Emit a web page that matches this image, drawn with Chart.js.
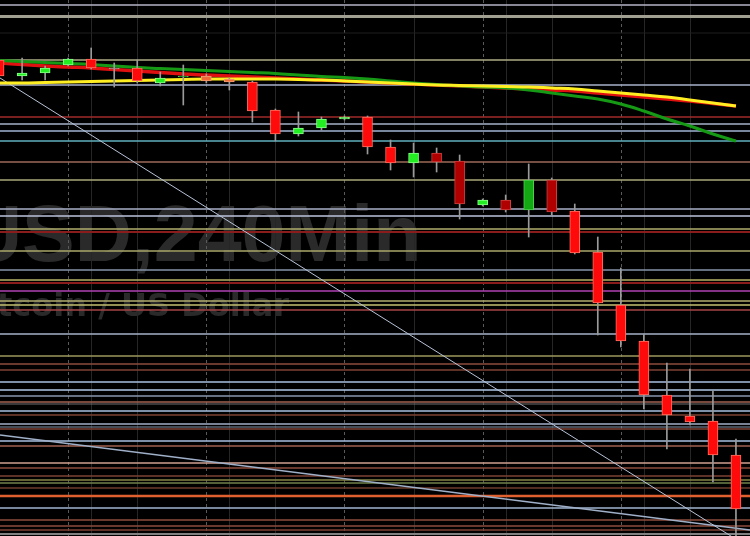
<!DOCTYPE html>
<html>
<head>
<meta charset="utf-8">
<script src="https://cdn.jsdelivr.net/npm/chart.js@4.4.1/dist/chart.umd.min.js"></script>
<style>
  html, body { margin: 0; padding: 0; background: #000; }
  #wrap { width: 750px; height: 536px; }
</style>
</head>
<body>
<div id="wrap"><canvas id="btcChart" width="750" height="536"></canvas></div>
<script>
// Bougies 4h (index 0 = bougie la plus à gauche)
const opens  = [8940, 8924, 8927, 8935, 8941, 8932, 8932, 8917, 8923, 8924, 8921, 8918, 8890, 8866, 8872, 8881, 8883,
                8853, 8837, 8847, 8839, 8795, 8800, 8790, 8820, 8789, 8748, 8695, 8659, 8605, 8584, 8579, 8545];
const highs  = [8943, 8942, 8934, 8942, 8952, 8937, 8940, 8928, 8935, 8926, 8922, 8919, 8891, 8888, 8883, 8884, 8884,
                8860, 8857, 8852, 8845, 8801, 8805, 8836, 8822, 8796, 8763, 8732, 8666, 8637, 8631, 8609, 8561];
const lows   = [8922, 8920, 8920, 8934, 8931, 8913, 8917, 8914, 8895, 8917, 8910, 8878, 8859, 8864, 8870, 8880, 8846,
                8830, 8823, 8828, 8781, 8794, 8788, 8763, 8785, 8746, 8665, 8653, 8591, 8551, 8575, 8518, 8460];
const closes = [8924, 8927, 8932, 8941, 8932, 8931, 8919, 8922, 8924, 8919, 8918, 8889, 8866, 8872, 8881, 8883, 8853,
                8837, 8847, 8838, 8796, 8800, 8790, 8820, 8788, 8747, 8697, 8659, 8605, 8585, 8578, 8545, 8491];

// Moyennes mobiles
const maYellow = [8917, 8917, 8917.5, 8918, 8918.5, 8919, 8919.5, 8920, 8920.5, 8921, 8921, 8921, 8921, 8920.5, 8920, 8919,
                  8918, 8917, 8916, 8915, 8914.5, 8914, 8913.5, 8913, 8912, 8911, 8909, 8907, 8905, 8903, 8900, 8897, 8894];
const maRed    = [8937, 8935.5, 8934, 8933, 8932, 8930.5, 8929, 8927.5, 8926, 8925, 8924, 8923, 8922, 8921, 8920, 8919,
                  8918, 8917, 8916, 8915, 8914, 8913, 8912, 8911, 8910, 8909, 8907, 8905, 8903, 8901, 8899, 8896.5, 8894];
const maGreen  = [8939.5, 8938.5, 8937.5, 8936.5, 8935.5, 8934, 8932.5, 8931.5, 8930.5, 8929.5, 8928.5, 8927.5, 8926.5,
                  8925, 8923.5, 8922.5, 8921, 8919, 8917, 8915.5, 8914, 8913, 8912, 8910, 8907, 8904, 8901, 8896, 8889,
                  8881, 8874, 8866, 8859];

// Lignes de tendance (index de bougie, prix)
const trendSteep   = [{x: 0.04, y: 8922}, {x: 32.61, y: 8452}];
const trendShallow = [{x: 0.04, y: 8565}, {x: 32.61, y: 8470}];

// Niveaux horizontaux (supports / résistances)
const levels = [8995, 8983.5, 8967, 8940, 8915, 8883, 8876, 8869, 8859, 8838, 8820, 8791, 8784, 8771, 8768, 8749, 8730,
                8720, 8717, 8709, 8699, 8695, 8690, 8666, 8644, 8636, 8630, 8618, 8610, 8604, 8598, 8596, 8589, 8585,
                8576, 8573, 8571, 8559, 8554, 8537, 8532, 8524, 8520, 8517, 8512, 8504, 8492, 8480, 8474, 8470, 8466];

// Séparateurs verticaux
const dayBreaks = [3, 9, 15, 21, 27];
const minorBreaks = [4, 6, 10, 12, 18, 22, 24, 28, 30];

// Styles
const levelColors = ['#b4b4c8', '#a09f92', '#1e1e1e', '#aeac84', '#a8b2cc', '#a02a2a', '#a6b2c8', '#a0b4d2', '#5fb0bd',
  '#9c6a58', '#aaa878', '#a8b0c8', '#bcc4dc', '#b0ae6c', '#8a1c1c', '#aaa86c', '#8493a8', '#b4b266', '#8a1c1c', '#b040b4',
  '#b0ae6e', '#c4c270', '#a44444', '#a4b2c8', '#9c9a5c', '#8c4c3c', '#7c4232', '#a8c0e0', '#b0c8e6', '#8898b0', '#a06050',
  '#707070', '#a8c0e0', '#7c4232', '#a0b0c8', '#8898b0', '#7c4232', '#a8c0e0', '#a06050', '#d0a090', '#8c4c3c', '#7c4232',
  '#848444', '#70804a', '#6c3c2c', '#e06030', '#a0b4d0', '#8c4c3c', '#8c4c3c', '#7c4232', '#808080'];
const levelWidths = [1.5, 3, 1, 1.5, 1.5, 1.5, 1.5, 1.5, 1.5, 1.5, 1.5, 1.5, 1.5, 1.5, 2, 1.5, 1.5, 1.5, 2, 1.5,
  1.5, 1.5, 1.5, 1.5, 1.5, 1.5, 1.5, 1.5, 1.5, 1.5, 1.5, 1, 1.5, 1.5, 1.5, 1, 1.5, 1.5, 1.5, 1.5, 1.5, 1.5,
  1.5, 1.5, 1.5, 2.5, 1.5, 1.5, 1.5, 1.5, 2];
// r = rouge vif, d = rouge foncé, o = orangé, g = vert, G = vert foncé, n = neutre
const candleShade = 'rgggrnrgGoorrgggrrgddgdGdrrrrrrrr';
const shadeFill   = { r: '#ff0a0a', d: '#b00000', o: '#f06a3a', g: '#22ee22', G: '#14a814', n: '#8a8a8a' };
const shadeBorder = { r: '#ff7060', d: '#d04040', o: '#f0a070', g: '#8aff8a', G: '#50d050', n: '#a0a0a0' };

const idx = opens.map((_, i) => i);
const bodies = idx.map(i => ({ x: i, y: [Math.min(opens[i], closes[i]), Math.max(opens[i], closes[i])] }));
const wicks = idx.map(i => ({ x: i, y: [lows[i], highs[i]] }));
const toLine = arr => arr.map((v, i) => ({ x: i, y: v }));

const backdrop = {
  id: 'backdrop',
  beforeDraw(chart) {
    const c = chart.ctx;
    c.save();
    c.fillStyle = '#000';
    c.fillRect(0, 0, chart.width, chart.height);
    // filigrane
    c.fillStyle = '#2a2a2a';
    c.textBaseline = 'alphabetic';
    c.font = 'bold 79px "Liberation Sans", Arial, sans-serif';
    const pre = c.measureText('BTC').width;
    c.fillText('BTCUSD,240Min', -35 - pre, 261);
    c.font = 'bold 32px "DejaVu Sans", sans-serif';
    const pre2 = c.measureText('Bi').width;
    c.fillText('Bitcoin / US Dollar', -3 - pre2, 316);
    c.restore();
  },
  beforeDatasetsDraw(chart) {
    const c = chart.ctx;
    const xs = chart.scales.x, ys = chart.scales.y;
    const area = chart.chartArea;
    c.save();
    c.lineWidth = 1;
    c.strokeStyle = '#262626';
    minorBreaks.forEach(i => {
      const x = Math.round(xs.getPixelForValue(i)) + 0.5;
      c.beginPath(); c.moveTo(x, area.top); c.lineTo(x, area.bottom); c.stroke();
    });
    c.strokeStyle = '#5a5a5a';
    c.setLineDash([3, 3]);
    dayBreaks.forEach(i => {
      const x = Math.round(xs.getPixelForValue(i)) + 0.5;
      c.beginPath(); c.moveTo(x, area.top); c.lineTo(x, area.bottom); c.stroke();
    });
    c.setLineDash([]);
    levels.forEach((p, k) => {
      const y = ys.getPixelForValue(p);
      c.strokeStyle = levelColors[k];
      c.lineWidth = levelWidths[k];
      c.beginPath(); c.moveTo(area.left, y); c.lineTo(area.right, y); c.stroke();
    });
    c.restore();
  }
};

const ctx = document.getElementById('btcChart').getContext('2d');
const btcChart = new Chart(ctx, {
  type: 'bar',
  data: {
    datasets: [
      {
        data: bodies, grouped: false, barThickness: 10, order: 0,
        backgroundColor: idx.map(i => shadeFill[candleShade[i]]),
        borderColor: idx.map(i => shadeBorder[candleShade[i]]),
        borderWidth: 1, borderSkipped: false
      },
      { data: wicks, grouped: false, barThickness: 1, order: 1, backgroundColor: '#9a9a9a', borderWidth: 0 },
      { type: 'line', data: toLine(maYellow), borderColor: '#ffee22', borderWidth: 3, pointRadius: 0, tension: 0.4, order: 2 },
      { type: 'line', data: toLine(maGreen), borderColor: '#169a16', borderWidth: 3, pointRadius: 0, tension: 0.4, order: 3 },
      { type: 'line', data: toLine(maRed), borderColor: '#e01010', borderWidth: 3.5, pointRadius: 0, tension: 0.4, order: 4 },
      { type: 'line', data: trendSteep, borderColor: '#b8c4d8', borderWidth: 1, pointRadius: 0, order: 5 },
      { type: 'line', data: trendShallow, borderColor: '#9fb0c8', borderWidth: 1.5, pointRadius: 0, order: 6 }
    ]
  },
  options: {
    responsive: false,
    devicePixelRatio: 1,
    animation: false,
    layout: { padding: 0 },
    plugins: { legend: { display: false }, tooltip: { enabled: false } },
    scales: {
      x: { type: 'linear', display: false, min: 0.04, max: 32.61, offset: false },
      y: { display: false, min: 8464, max: 9000 }
    }
  },
  plugins: [backdrop]
});
</script>
</body>
</html>
